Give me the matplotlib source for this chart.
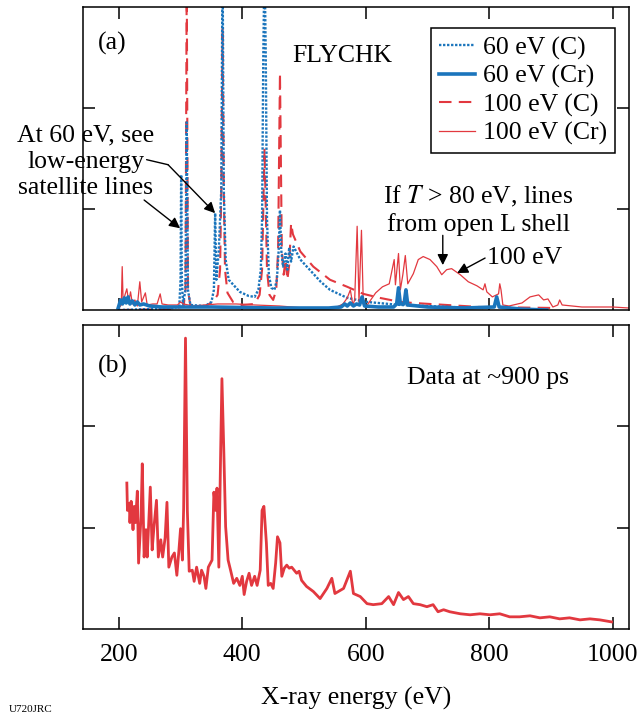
import numpy as np
import matplotlib
matplotlib.use("Agg")
from matplotlib import pyplot as plt

# FLYCHK spectra, panel (a): energy (eV) and intensity (arb. units)
c60_x = [200, 250, 290, 298, 300, 301, 302, 304, 308, 310, 312, 316, 340, 350, 354, 356, 358,
         362, 366, 368, 370, 373, 378, 390, 396, 410, 420, 426, 430, 432, 434, 436, 438, 440,
         443, 447, 452, 456, 459, 461, 463, 466, 470, 473, 476, 479, 483, 494, 515, 527, 542,
         570, 602, 656, 737, 790]
c60_y = [0.0, 0.01, 0.02, 0.04, 0.3, 1.34, 0.3, 0.06, 0.2, 1.86, 0.2, 0.05, 0.04, 0.08, 0.2, 0.96, 0.3,
         0.6, 1.2, 3.5, 1.2, 0.5, 0.30, 0.22, 0.18, 0.14, 0.13, 0.2, 0.4, 0.9, 2.5, 3.5, 2.5, 0.9,
         0.35, 0.22, 0.2, 0.3, 0.6, 0.99, 0.6, 0.43, 0.56, 0.40, 0.62, 0.48, 0.63, 0.50, 0.36, 0.28, 0.20,
         0.12, 0.08, 0.05, 0.03, 0.02]

cr60_x = [199, 203, 206, 209, 212, 215, 218, 222, 226, 230, 234, 240, 250, 270, 300, 350, 400, 450,
          500, 540, 560, 566, 570, 575, 580, 585, 590, 594, 598, 620, 645, 650, 653, 656, 662, 665,
          668, 700, 760, 808, 812, 816, 850, 893]
cr60_y = [0.02, 0.10, 0.06, 0.12, 0.07, 0.13, 0.06, 0.09, 0.05, 0.08, 0.05, 0.06, 0.04, 0.03, 0.03,
          0.03, 0.025, 0.02, 0.02, 0.02, 0.03, 0.06, 0.04, 0.07, 0.04, 0.06, 0.05, 0.13, 0.04, 0.03,
          0.03, 0.06, 0.22, 0.06, 0.06, 0.20, 0.05, 0.03, 0.02, 0.03, 0.13, 0.03, 0.01, 0.0]

c100_x = [200, 290, 305, 308, 310, 312, 316, 340, 352, 360, 364, 366, 368, 370, 372, 376, 385, 400,
          420, 428, 432, 434, 436, 438, 440, 444, 450, 455, 458, 461, 464, 467, 470, 473, 476, 479,
          482, 494, 515, 542, 570, 596, 623, 656, 677, 731, 785, 910]
c100_y = [0.0, 0.01, 0.04, 0.2, 3.3, 0.2, 0.04, 0.04, 0.08, 0.15, 0.4, 1.2, 2.8, 1.2, 0.4, 0.17, 0.08, 0.05,
          0.06, 0.15, 0.4, 1.0, 1.6, 1.0, 0.4, 0.15, 0.1, 0.2, 0.6, 2.35, 0.6, 0.35, 0.5, 0.3, 0.45, 0.86,
          0.75, 0.58, 0.43, 0.30, 0.23, 0.16, 0.12, 0.08, 0.07, 0.05, 0.03, 0.02]

cr100_x = [200, 204, 205.5, 207, 210, 213, 216, 219, 222, 226, 230, 234, 237, 243, 246, 255, 262, 267,
           270, 280, 295, 300, 305, 320, 340, 360, 390, 420, 460, 500, 550, 563, 570, 575, 579, 582,
           586, 589, 593, 596, 600, 616, 627, 638, 646, 648, 653, 656, 660, 664, 668, 677, 685, 693,
           704, 715, 723, 731, 739, 753, 766, 780, 790, 793, 796, 805, 815, 817, 819, 822, 832, 853,
           866, 880, 888, 895, 903, 911, 914, 918, 950, 1000, 1026]
cr100_y = [0.02, 0.05, 0.43, 0.08, 0.15, 0.21, 0.08, 0.18, 0.06, 0.10, 0.04, 0.28, 0.08, 0.17, 0.05, 0.06,
           0.06, 0.16, 0.06, 0.05, 0.05, 0.08, 0.06, 0.04, 0.05, 0.06, 0.06, 0.05, 0.04, 0.02, 0.02, 0.06,
           0.12, 0.20, 0.05, 0.10, 0.83, 0.08, 0.79, 0.06, 0.03, 0.17, 0.23, 0.26, 0.50, 0.25, 0.56, 0.20,
           0.35, 0.54, 0.26, 0.36, 0.50, 0.53, 0.50, 0.43, 0.35, 0.40, 0.41, 0.35, 0.28, 0.24, 0.20, 0.26,
           0.18, 0.13, 0.16, 0.26, 0.20, 0.05, 0.04, 0.07, 0.13, 0.15, 0.10, 0.11, 0.03, 0.05, 0.10, 0.05,
           0.03, 0.03, 0.02]

# measured spectrum, panel (b)
data_x = [213, 214, 217, 218, 220, 223, 225, 227, 230, 232, 236, 238, 241, 244, 246, 251, 254, 257,
          261, 264, 268, 271, 275, 278, 281, 286, 290, 294, 297, 300, 303, 305, 308, 311, 314, 319,
          322, 326, 331, 334, 338, 341, 345, 351, 354, 357, 359, 362, 365, 367, 370, 373, 377, 381,
          386, 391, 396, 400, 403, 407, 411, 415, 420, 424, 429, 432, 435, 439, 442, 446, 450, 454,
          457, 461, 464, 468, 472, 476, 480, 484, 488, 492, 496, 504, 515, 526, 537, 545, 550, 564,
          575, 580, 591, 602, 612, 626, 637, 645, 653, 661, 669, 677, 688, 699, 709, 717, 726, 736,
          753, 769, 785, 801, 817, 833, 849, 866, 882, 898, 914, 930, 947, 963, 979, 998]
data_y = [1.44, 1.17, 1.24, 1.05, 1.26, 0.98, 1.21, 1.05, 1.36, 0.65, 1.11, 1.63, 0.71, 0.98, 0.71, 1.40,
          0.78, 1.01, 1.27, 0.71, 0.88, 0.71, 0.90, 1.25, 0.61, 0.71, 0.75, 0.53, 0.75, 0.99, 0.68, 1.19,
          2.87, 1.17, 0.57, 0.58, 0.47, 0.61, 0.45, 0.58, 0.52, 0.40, 0.61, 0.68, 1.35, 1.17, 1.39, 0.61,
          1.77, 2.47, 1.77, 1.01, 0.68, 0.58, 0.45, 0.50, 0.43, 0.52, 0.34, 0.47, 0.55, 0.43, 0.52, 0.43,
          0.58, 1.17, 1.21, 0.85, 0.43, 0.45, 0.40, 0.65, 0.91, 0.85, 0.52, 0.60, 0.63, 0.60, 0.61, 0.58,
          0.55, 0.57, 0.48, 0.42, 0.37, 0.30, 0.40, 0.50, 0.35, 0.40, 0.57, 0.35, 0.32, 0.25, 0.24, 0.25,
          0.32, 0.24, 0.36, 0.29, 0.32, 0.25, 0.24, 0.22, 0.24, 0.17, 0.19, 0.17, 0.15, 0.14, 0.15, 0.14,
          0.15, 0.12, 0.12, 0.13, 0.11, 0.12, 0.10, 0.11, 0.09, 0.10, 0.09, 0.07]

x_ticks = [200, 400, 600, 800, 1000]
x_labels = ["200", "400", "600", "800", "1000"]

blue = "#1b75bc"
red = "#e2383f"

plt.rcParams["font.family"] = ["Liberation Serif", "DejaVu Serif"]
plt.rcParams["mathtext.fontset"] = "stix"
fs = 18.5

fig = plt.figure(figsize=(6.41, 7.15), dpi=100)
ax1 = fig.add_axes([0.129, 0.5664, 0.852, 0.4234])
ax2 = fig.add_axes([0.129, 0.1203, 0.852, 0.4252])

for ax in (ax1, ax2):
    ax.set_xlim(141.5, 1026)
    ax.set_ylim(0, 3)
    ax.set_xticks(x_ticks)
    ax.set_yticks([1, 2])
    ax.tick_params(direction="in", length=8.5, width=1.1, top=True, right=True,
                   labelleft=False, labelsize=fs, pad=11)
    for s in ax.spines.values():
        s.set_linewidth(1.1)

ax1.tick_params(labelbottom=False)
ax2.set_xticklabels(x_labels)
ax2.set_xlabel("X-ray energy (eV)", fontsize=fs, labelpad=15)

# panel (a)
l3, = ax1.plot(c100_x, c100_y, color=red, lw=1.5, dashes=(6, 3.5))
l1, = ax1.plot(c60_x, c60_y, color=blue, lw=1.7, dashes=(1.0, 0.7))
l4, = ax1.plot(cr100_x, cr100_y, color=red, lw=0.9)
l2, = ax1.plot(cr60_x, cr60_y, color=blue, lw=2.6)

leg = ax1.legend([l1, l2, l3, l4], ["60 eV (C)", "60 eV (Cr)", "100 eV (C)", "100 eV (Cr)"],
                 loc="upper right", bbox_to_anchor=(0.974, 0.93), fontsize=fs,
                 handlelength=1.4, handletextpad=0.3, labelspacing=0.2, borderpad=0.3,
                 borderaxespad=0, fancybox=False, framealpha=1, edgecolor="black")
leg.get_frame().set_linewidth(1.1)

ax1.text(0.028, 0.879, "(a)", transform=ax1.transAxes, fontsize=fs, va="center")
ax1.text(0.383, 0.839, "FLYCHK", transform=ax1.transAxes, fontsize=fs, va="center")
ax1.text(0.006, 0.49, "At 60 eV, see\nlow-energy\nsatellite lines", transform=ax1.transAxes,
         fontsize=fs, ha="center", va="center", linespacing=1.25)
ax1.text(0.724, 0.33, "If $T$ > 80 eV, lines\nfrom open L shell", transform=ax1.transAxes,
         fontsize=fs, ha="center", va="center", linespacing=1.25)
ax1.text(0.740, 0.172, "100 eV", transform=ax1.transAxes, fontsize=fs, va="center")

arr = dict(arrowstyle="-|>", color="black", lw=1.0, mutation_scale=16, shrinkA=0, shrinkB=0)
ax1.annotate("", xy=(299.3, 0.81), xytext=(241.0, 1.09), arrowprops=arr)
ax1.annotate("", xy=(279.8, 1.44), xytext=(245.0, 1.49),
             arrowprops=dict(arrowstyle="-", color="black", lw=1.0, shrinkA=0, shrinkB=0))
ax1.annotate("", xy=(356.0, 0.96), xytext=(279.8, 1.44), arrowprops=arr)
ax1.annotate("", xy=(724.7, 0.445), xytext=(724.7, 0.74), arrowprops=arr)
ax1.annotate("", xy=(747.9, 0.366), xytext=(793.2, 0.515), arrowprops=arr)

# panel (b)
ax2.plot(data_x, data_y, color=red, lw=2.0)
ax2.text(0.028, 0.862, "(b)", transform=ax2.transAxes, fontsize=fs, va="center")
ax2.text(0.594, 0.826, "Data at ~900 ps", transform=ax2.transAxes, fontsize=fs, va="center")

fig.text(0.013, 0.002, "U720JRC", fontsize=8, va="bottom")

fig.savefig("out.png", dpi=100)
